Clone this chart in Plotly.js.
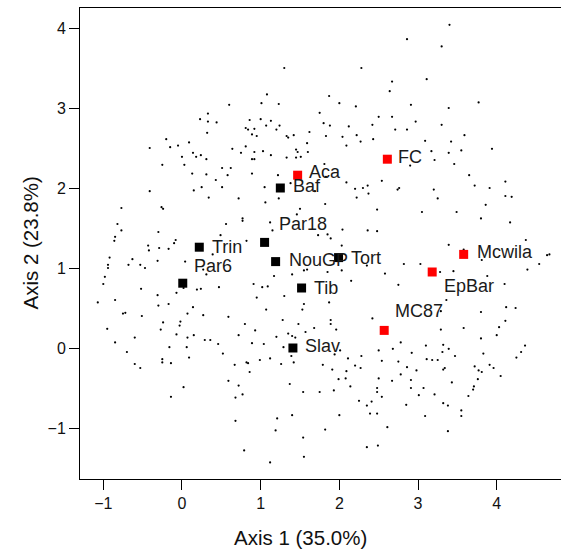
<!DOCTYPE html>
<html>
<head>
<meta charset="utf-8">
<script src="https://cdn.plot.ly/plotly-3.0.1.min.js"></script>
<style>
html,body{margin:0;padding:0;background:#fff;overflow:hidden;}
#chart{width:561px;height:550px;}
</style>
</head>
<body>
<div id="chart"></div>
<script>
// Background sample points (Axis 1, Axis 2)
const dotX = [0.60,0.33,0.23,0.33,0.44,0.32,-0.20,0.09,-0.41,-0.15,-0.05,0.64,0.14,0.00,0.18,0.24,0.31,-0.25,0.03,0.51,0.62,
1.30,2.28,2.67,2.64,1.08,1.87,1.01,1.23,2.00,2.21,1.75,2.50,2.67,0.86,1.00,1.13,1.80,1.88,1.07,1.24,0.81,0.84,0.92,1.20,2.12,2.42,2.71,1.62,0.89,0.95,1.33,1.35,1.42,1.83,2.04,2.22,2.43,2.27,1.59,2.09,0.81,1.45,1.47,1.60,0.92,1.03,0.75,1.13,1.51,1.45,1.33,0.89,0.92,1.81,
3.40,2.86,3.30,3.11,2.91,3.39,3.77,2.97,3.30,2.86,3.59,3.09,3.42,3.17,3.39,3.55,3.94,3.21,3.46,2.90,
0.13,0.31,0.58,0.43,0.25,0.15,0.51,-0.41,0.34,0.72,-0.77,-0.26,-0.24,-0.82,0.56,-0.77,-0.30,-0.85,0.49,-0.86,-0.08,-0.10,-0.43,-0.29,-0.17,-0.42,-0.92,-0.63,-0.31,0.04,0.39,-0.94,-0.94,-0.68,-0.53,-0.47,0.31,0.27,-0.98,-1.00,0.02,0.19,0.24,0.47,-0.52,-0.07,-1.07,-0.85,-0.31,-0.17,-0.30,0.14,-0.75,-0.72,-0.51,0.07,0.27,0.59,-0.24,-0.02,-0.03,-0.95,-0.27,
0.89,1.22,1.05,1.38,1.69,1.83,2.09,2.20,2.30,2.36,2.54,2.74,2.76,2.37,2.22,1.06,1.23,1.82,1.50,2.48,1.46,0.77,0.77,1.12,1.15,1.73,1.85,1.89,2.04,2.36,2.48,0.82,2.03,2.35,1.55,1.59,1.40,1.17,1.85,2.03,2.58,2.15,2.75,0.91,1.02,1.09,1.30,0.95,1.87,1.55,1.07,1.53,2.42,1.28,1.89,0.80,1.48,1.89,1.68,1.96,
3.65,3.20,3.72,3.91,4.11,3.25,4.11,4.19,3.86,3.05,3.49,3.80,4.17,4.37,3.39,3.58,3.81,4.64,4.67,2.82,3.03,4.54,4.39,3.28,3.45,3.88,4.10,3.36,3.29,3.80,4.12,4.24,4.11,4.03,3.58,3.29,
-0.60,-0.85,-0.07,0.07,0.15,0.29,0.36,0.46,0.72,-0.16,0.06,-0.70,0.52,-0.25,-0.25,-0.14,0.09,-0.60,-0.53,0.67,0.59,0.72,0.02,-0.14,0.68,0.68,
0.93,1.20,1.35,1.40,1.44,1.57,0.89,1.04,1.29,1.39,1.42,1.94,2.01,2.11,2.28,2.50,2.68,2.54,2.75,0.82,0.84,0.99,1.12,1.26,0.86,1.79,1.91,2.09,2.20,2.27,1.99,2.08,2.50,2.67,1.37,2.14,2.48,2.48,2.54,1.54,1.75,1.93,0.77,2.25,2.35,2.41,2.39,2.48,1.40,2.00,1.21,2.61,1.19,1.82,1.54,2.35,2.49,0.79,1.55,1.12,
3.80,4.00,2.78,3.10,3.32,3.39,4.36,4.31,4.25,2.92,3.31,3.47,3.83,3.11,3.18,3.25,3.91,3.96,2.86,2.78,2.98,3.32,3.34,3.72,3.77,3.81,4.05,3.76,2.91,3.43,2.91,3.07,3.70,3.71,3.01,3.21,3.64,2.85,3.32,3.38,3.55,3.55,3.09,3.38];
const dotY = [3.04,2.93,2.86,2.83,2.82,2.69,2.61,2.57,2.50,2.51,2.53,2.49,2.44,2.39,2.39,2.41,2.36,2.29,2.29,2.25,2.25,
3.50,3.50,3.33,3.21,3.17,3.15,3.06,3.05,3.06,3.02,2.94,2.89,2.89,2.85,2.86,2.84,2.81,2.78,2.78,2.78,2.75,2.73,2.74,2.73,2.77,2.79,2.73,2.70,2.67,2.65,2.65,2.63,2.66,2.65,2.64,2.66,2.61,2.58,2.56,2.53,2.52,2.48,2.45,2.45,2.45,2.46,2.44,2.41,2.39,2.38,2.38,2.36,2.36,2.30,
4.04,3.86,3.77,3.36,3.04,3.00,3.07,2.83,2.79,2.73,2.66,2.59,2.58,2.46,2.44,2.47,2.49,2.35,2.30,2.28,
2.18,2.17,2.16,2.10,2.01,1.97,2.01,1.96,1.88,1.87,1.75,1.76,1.74,1.55,1.55,1.47,1.45,1.39,1.41,1.34,1.35,1.31,1.28,1.25,1.24,1.22,1.13,1.11,1.09,1.08,1.17,1.04,1.00,1.04,1.04,1.00,0.92,0.98,0.89,0.80,0.75,0.73,0.74,0.76,0.74,0.69,0.57,0.60,0.66,0.55,0.53,0.51,0.43,0.44,0.40,0.43,0.41,0.39,0.32,0.33,0.28,0.24,0.23,
2.18,2.16,2.01,2.06,1.96,2.14,2.07,1.99,2.00,2.03,2.09,1.98,2.00,1.93,1.88,1.82,1.87,1.80,1.74,1.73,1.67,1.62,1.59,1.57,1.47,1.41,1.42,1.37,1.48,1.47,1.46,1.34,1.28,1.03,0.97,0.98,0.92,0.90,0.95,0.97,0.93,0.84,0.79,0.80,0.76,0.77,0.65,0.63,0.57,0.55,0.48,0.48,0.37,0.35,0.35,0.30,0.30,0.30,0.25,0.23,
2.16,1.98,2.03,2.00,2.08,1.87,1.90,1.89,1.79,1.70,1.70,1.62,1.57,1.35,1.29,1.23,1.10,1.16,1.17,1.05,1.05,1.05,0.98,0.95,0.96,0.90,0.80,0.60,0.46,0.45,0.51,0.50,0.34,0.26,0.25,0.23,
0.13,0.07,0.17,0.13,0.16,0.10,0.10,0.05,0.16,0.01,0.01,-0.05,-0.07,-0.14,-0.18,-0.19,-0.12,-0.20,-0.25,-0.21,-0.41,-0.47,-0.49,-0.61,-0.62,-0.91,
0.22,0.14,0.18,0.15,0.13,0.20,0.06,0.05,0.01,-0.10,-0.18,-0.08,-0.03,-0.13,-0.10,-0.03,-0.01,-0.16,-0.17,-0.18,-0.19,-0.15,-0.13,-0.20,-0.30,-0.21,-0.27,-0.29,-0.22,-0.25,-0.39,-0.38,-0.38,-0.41,-0.45,-0.48,-0.50,-0.55,-0.61,-0.55,-0.55,-0.53,-0.58,-0.66,-0.72,-0.67,-0.82,-0.82,-0.84,-0.84,-0.88,-0.99,-1.03,-1.02,-1.12,-1.24,-1.22,-1.28,-1.36,-1.43,
0.12,0.16,0.07,0.03,0.04,-0.01,0.03,-0.05,-0.12,-0.06,-0.05,-0.10,-0.07,-0.14,-0.15,-0.15,-0.21,-0.25,-0.24,-0.33,-0.28,-0.27,-0.25,-0.23,-0.28,-0.30,-0.35,-0.39,-0.40,-0.43,-0.50,-0.50,-0.52,-0.48,-0.59,-0.58,-0.60,-0.71,-0.69,-0.72,-0.78,-0.85,-0.85,-1.04];

// Labelled sites
const siteNames = ["Aca","FC","Mcwila","EpBar","MC87","Baf","Par18","Trin","Par6","NouGP","Tort","Tib","Slav"];
const siteX = [1.47,2.61,3.58,3.18,2.57,1.25,1.05,0.22,0.01,1.19,1.99,1.52,1.41];
const siteY = [2.16,2.36,1.17,0.95,0.22,2.00,1.32,1.26,0.81,1.08,1.13,0.75,0.00];
const siteGroup = ["red","red","red","red","red","black","black","black","black","black","black","black","black"];

const tickVals = [-1,0,1,2,3,4];
const xTitle = "Axis 1 (35.0%)";
const yTitle = "Axis 2 (23.8%)";

// label placement (pixel offsets from the square)
const labShift = {
  "Aca":[9,3],"FC":[9,2],"Mcwila":[11,2],"EpBar":[10,-14],"MC87":[9,19],
  "Baf":[11,2],"Par18":[12,18],"Trin":[11,0],"Par6":[9,17],"NouGP":[11,2],
  "Tort":[10,0],"Tib":[10,0],"Slav":[10,2]
};

const FONT = "Liberation Sans, Arial, Helvetica, sans-serif";

const redIdx = siteGroup.map((g,i)=>g==="red"?i:-1).filter(i=>i>=0);
const blkIdx = siteGroup.map((g,i)=>g==="black"?i:-1).filter(i=>i>=0);

const traces = [
  {x: dotX, y: dotY, type:"scatter", mode:"markers",
   marker:{size:2.2, color:"#000"}, hoverinfo:"skip", showlegend:false},
  {x: blkIdx.map(i=>siteX[i]), y: blkIdx.map(i=>siteY[i]), text: blkIdx.map(i=>siteNames[i]),
   type:"scatter", mode:"markers", marker:{symbol:"square", size:9, color:"#000"}, showlegend:false},
  {x: redIdx.map(i=>siteX[i]), y: redIdx.map(i=>siteY[i]), text: redIdx.map(i=>siteNames[i]),
   type:"scatter", mode:"markers", marker:{symbol:"square", size:9, color:"#ff0000"}, showlegend:false}
];

const annotations = siteNames.map((n,i)=>({
  x: siteX[i], y: siteY[i], xref:"x", yref:"y", text:n, showarrow:false,
  xanchor:"left", yanchor:"middle", xshift: labShift[n][0], yshift: labShift[n][1],
  font:{family:FONT, size:18, color:"#1a1a1a"}
}));
annotations.push({x:0.4574, y:0, xref:"paper", yref:"paper", text:xTitle, showarrow:false,
  xanchor:"center", yanchor:"middle", yshift:-58, font:{family:FONT, size:20.5, color:"#111"}});
annotations.push({x:0, y:0.5, xref:"paper", yref:"paper", text:yTitle, showarrow:false, textangle:-90,
  xanchor:"center", yanchor:"middle", xshift:-50, font:{family:FONT, size:20.5, color:"#111"}});

const layout = {
  width:561, height:550,
  margin:{l:80, r:0, t:8, b:71, pad:0},
  paper_bgcolor:"#fff", plot_bgcolor:"#fff",
  font:{family:FONT, color:"#111"},
  showlegend:false,
  xaxis:{range:[-1.296,4.817], tickvals:tickVals, ticks:"outside", ticklen:10, tickwidth:1, tickcolor:"#000",
    showline:true, mirror:true, linecolor:"#000", linewidth:1, showgrid:false, zeroline:false,
    tickfont:{family:FONT, size:16, color:"#111"}},
  yaxis:{range:[-1.6375,4.25], tickvals:tickVals, ticks:"outside", ticklen:10, tickwidth:1, tickcolor:"#000",
    showline:true, mirror:false, linecolor:"#000", linewidth:1, showgrid:false, zeroline:false,
    tickfont:{family:FONT, size:16, color:"#111"}},
  annotations: annotations
};

Plotly.newPlot("chart", traces, layout, {staticPlot:true, displayModeBar:false});
</script>
</body>
</html>
